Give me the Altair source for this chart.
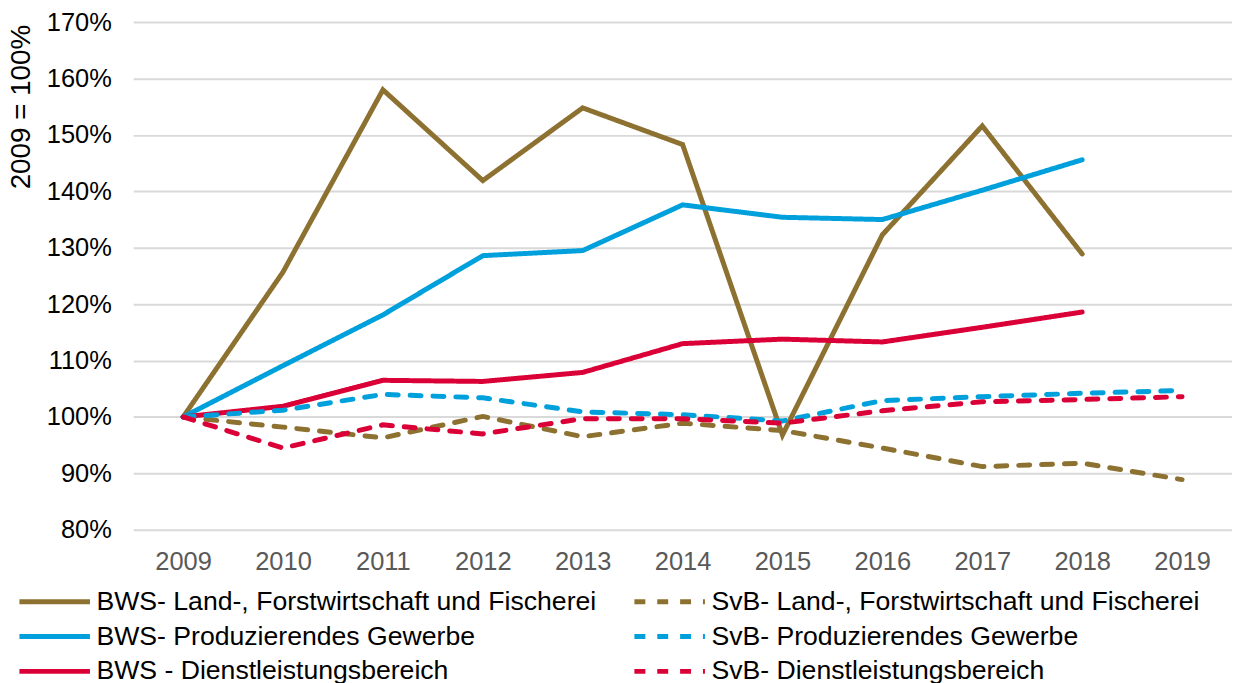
import altair as alt
import pandas as pd

years = ["2009", "2010", "2011", "2012", "2013", "2014", "2015", "2016", "2017", "2018", "2019"]

bws_land = [100, 125.7, 158.0, 141.9, 154.8, 148.3, 96.8, 132.3, 151.6, 128.9, None]
bws_prod = [100, 109.1, 118.1, 128.6, 129.5, 137.6, 135.4, 135.0, 140.2, 145.6, None]
bws_dienst = [100, 101.9, 106.5, 106.3, 107.9, 113.0, 113.8, 113.3, 115.9, 118.6, None]
svb_land = [100, 98.2, 96.3, 100.1, 96.5, 98.9, 97.6, 94.5, 91.2, 91.8, 88.9]
svb_prod = [100, 101.2, 104.0, 103.4, 100.9, 100.4, 99.3, 102.9, 103.6, 104.2, 104.7]
svb_dienst = [100, 94.5, 98.6, 97.0, 99.7, 99.7, 98.9, 101.1, 102.7, 103.1, 103.6]

series_names = [
    "BWS- Land-, Forstwirtschaft und Fischerei",
    "BWS- Produzierendes Gewerbe",
    "BWS - Dienstleistungsbereich",
    "SvB- Land-, Forstwirtschaft und Fischerei",
    "SvB- Produzierendes Gewerbe",
    "SvB- Dienstleistungsbereich",
]
series_values = [bws_land, bws_prod, bws_dienst, svb_land, svb_prod, svb_dienst]
series_colors = ["#8D7131", "#00A0DC", "#DA0037", "#8D7131", "#00A0DC", "#DA0037"]
solid = [1, 0]
dashed = [11, 12]
series_dash = [solid, solid, solid, dashed, dashed, dashed]

y_ticks = [80, 90, 100, 110, 120, 130, 140, 150, 160, 170]

rows = []
for name, vals in zip(series_names, series_values):
    for yr, v in zip(years, vals):
        if v is not None:
            rows.append({"year": yr, "value": v, "series": name})
df = pd.DataFrame(rows)

font = "Liberation Sans"

chart = (
    alt.Chart(df)
    .mark_line(strokeWidth=5, strokeCap="round")
    .encode(
        x=alt.X(
            "year:N",
            sort=years,
            scale=alt.Scale(domain=years, paddingOuter=0.5, paddingInner=0),
            axis=alt.Axis(
                title=None,
                labelAngle=0,
                labelFontSize=25.6,
                labelColor="#595959",
                labelFont=font,
                labelPadding=20,
                domain=False,
                ticks=False,
                grid=False,
            ),
        ),
        y=alt.Y(
            "value:Q",
            scale=alt.Scale(domain=[80, 170], nice=False, zero=False),
            axis=alt.Axis(
                title="2009 = 100%",
                titleFontSize=28,
                titleFont=font,
                titleFontWeight="normal",
                titleColor="#000000",
                titleAngle=270,
                titleAlign="center",
                titleBaseline="middle",
                titleX=-112,
                titleY=85,
                values=y_ticks,
                labelExpr="datum.value + '%'",
                labelFontSize=25.6,
                labelFont=font,
                labelColor="#000000",
                labelPadding=22,
                domain=False,
                ticks=False,
                grid=True,
                gridColor="#D9D9D9",
                gridWidth=2,
            ),
        ),
        color=alt.Color(
            "series:N",
            sort=series_names,
            scale=alt.Scale(domain=series_names, range=series_colors),
            legend=alt.Legend(
                title=None,
                orient="none",
                direction="vertical",
                legendX=-117,
                legendY=566,
                columns=2,
                columnPadding=35,
                rowPadding=0,
                clipHeight=35,
                symbolType="stroke",
                symbolSize=5041,
                symbolStrokeWidth=5,
                labelFontSize=26.8,
                labelFont=font,
                labelColor="#000000",
                labelLimit=700,
                labelOffset=4,
                padding=0,
            ),
        ),
        strokeDash=alt.StrokeDash(
            "series:N",
            sort=series_names,
            scale=alt.Scale(domain=series_names, range=series_dash),
        ),
    )
    .properties(
        width=1106,
        height=511,
        autosize=alt.AutoSizeParams(type="none"),
        padding={"left": 126, "top": 12, "right": 0, "bottom": 152},
    )
    .configure_view(stroke=None)
)

chart.save("out.html", embed_options={"renderer": "svg", "actions": False})
